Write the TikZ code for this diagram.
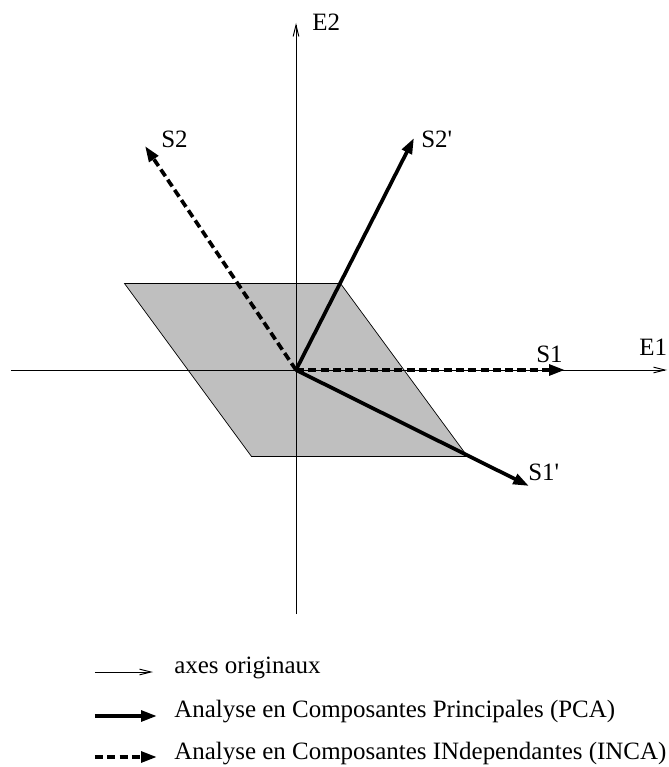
\documentclass[tikz,border=0pt]{standalone}
\usepackage{fontspec}
\setmainfont{Liberation Serif}[Ligatures=TeXOff]
\usetikzlibrary{arrows.meta}
\definecolor{planegray}{gray}{0.75}

\begin{document}
\begin{tikzpicture}[x=2cm,y=2cm,font=\fontsize{14.2}{16}\selectfont,
  lbl/.style={anchor=base west,inner sep=0pt},
  axe/.style={line width=0.55pt,-{Straight Barb[length=6.5pt,width=3.2pt]}},
  pca/.style={line width=2.1pt,-{Triangle[length=9pt,width=6pt]}},
  inca/.style={pca,dash pattern=on 4.6pt off 2.4pt}]
\useasboundingbox (-2.96,-3.97) rectangle (3.72,3.70);
% plan grise
\filldraw[fill=planegray,draw=black,line width=0.4pt] (-1.715,0.865) -- (0.445,0.865) -- (1.715,-0.865) -- (-0.445,-0.865) -- cycle;
% axes originaux
\coordinate (O) at (0,0);
\coordinate (e1g) at (-2.85,0);
\coordinate (e1d) at (3.71,0);
\coordinate (e2b) at (0,-2.44);
\coordinate (e2h) at (0,3.47);
\draw[axe] (e1g) -- (e1d);
\draw[axe] (e2b) -- (e2h);
\node[lbl] (E1) at (3.43,0.14) {E1};
\node[lbl] (E2) at (0.16,3.39) {E2};
% sources
\coordinate (s1) at (2.69,0);
\coordinate (s2) at (-1.51,2.24);
\coordinate (s1p) at (2.33,-1.16);
\coordinate (s2p) at (1.18,2.32);
\draw[inca] (O) -- (s1);
\draw[inca] (O) -- (s2);
\draw[pca] (O) -- (s1p);
\draw[pca] (O) -- (s2p);
\node[lbl] (S1) at (2.40,0.07) {S1};
\node[lbl] (S2) at (-1.35,2.22) {S2};
\node[lbl] (S1p) at (2.32,-1.11) {S1'};
\node[lbl] (S2p) at (1.25,2.22) {S2'};
% legende
\coordinate (la) at (-2.01,-3.02);
\coordinate (lb) at (-1.43,-3.02);
\coordinate (lc) at (-2.01,-3.46);
\coordinate (ld) at (-1.39,-3.46);
\coordinate (le) at (-2.01,-3.87);
\coordinate (lf) at (-1.39,-3.87);
\draw[axe] (la) -- (lb);
\draw[pca] (lc) -- (ld);
\draw[inca] (le) -- (lf);
\node[lbl] (leg1) at (-1.22,-3.03) {axes originaux};
\node[lbl] (leg2) at (-1.22,-3.47) {Analyse en Composantes Principales (PCA)};
\node[lbl] (leg3) at (-1.22,-3.89) {Analyse en Composantes INdependantes (INCA)};
\end{tikzpicture}
\end{document}
